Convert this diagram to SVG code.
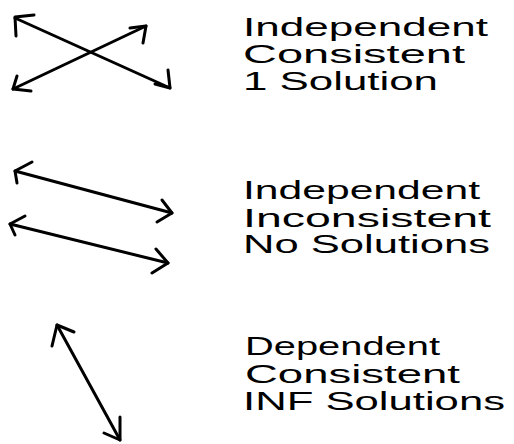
<svg xmlns="http://www.w3.org/2000/svg" width="514" height="444" viewBox="0 0 514 444">
<style>
.ln{fill:none;stroke:#000;stroke-width:3;stroke-linecap:round;stroke-linejoin:round}
.t{font-family:"Liberation Sans","DejaVu Sans",sans-serif;font-size:25px;fill:#000}
</style>
<rect width="514" height="444" fill="#fff"/>
<g id="connectors">
  <g id="cross">
    <path class="ln" d="M15,18 L170,88"/>
    <path class="ln" d="M34,15 L15,17 L16,36"/>
    <path class="ln" d="M168,70 L170,88 L155,84"/>
    <path class="ln" d="M13,89 L146,26"/>
    <path class="ln" d="M130,28 L146,26 L143,43"/>
    <path class="ln" d="M17,76 L13,89 L31,91"/>
  </g>
  <g id="parallel">
    <path class="ln" d="M15,171 L172,213"/>
    <path class="ln" d="M32,162 L15,171 L17,183"/>
    <path class="ln" d="M162,200 L172,213 L157,222"/>
    <path class="ln" d="M10,224 L168,263"/>
    <path class="ln" d="M25,216 L10,224 L15,235"/>
    <path class="ln" d="M156,249 L168,263 L152,273"/>
  </g>
  <g id="coincident">
    <path class="ln" d="M57,325 L120,440"/>
    <path class="ln" d="M74,332 L57,325 L52,346"/>
    <path class="ln" d="M120,417 L120,440 L104,433"/>
  </g>
</g>
<g id="label1">
  <text class="t" x="243" y="36" textLength="245" lengthAdjust="spacingAndGlyphs">Independent</text>
  <text class="t" x="243" y="63" textLength="222" lengthAdjust="spacingAndGlyphs">Consistent</text>
  <text class="t" x="243" y="90" textLength="195" lengthAdjust="spacingAndGlyphs">1 Solution</text>
</g>
<g id="label2">
  <text class="t" x="243" y="199" textLength="237" lengthAdjust="spacingAndGlyphs">Independent</text>
  <text class="t" x="243" y="227" textLength="248" lengthAdjust="spacingAndGlyphs">Inconsistent</text>
  <text class="t" x="243" y="253" textLength="247" lengthAdjust="spacingAndGlyphs">No Solutions</text>
</g>
<g id="label3">
  <text class="t" x="245" y="355" textLength="195" lengthAdjust="spacingAndGlyphs">Dependent</text>
  <text class="t" x="245" y="383" textLength="215" lengthAdjust="spacingAndGlyphs">Consistent</text>
  <text class="t" x="243" y="410" textLength="262" lengthAdjust="spacingAndGlyphs">INF Solutions</text>
</g>
</svg>
